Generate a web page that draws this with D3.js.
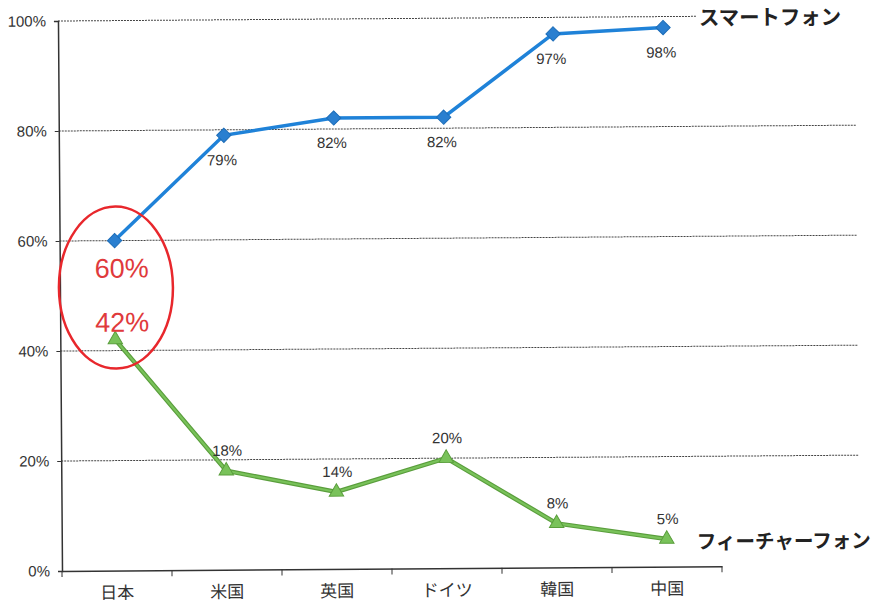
<!DOCTYPE html>
<html>
<head>
<meta charset="utf-8">
<script src="https://cdn.jsdelivr.net/npm/d3@7"></script>
<style>
  body { margin: 0; background: #fff; }
  text { font-family: "Liberation Sans", Arial, sans-serif; }
  .jp { font-family: "Noto Sans CJK JP", sans-serif; }
</style>
</head>
<body>
<div id="chart"></div>
<script>
const width = 877;
const height = 605;

// data
const countries = ["日本", "米国", "英国", "ドイツ", "韓国", "中国"];
const smartphone = [60, 79, 82, 82, 97, 98];
const featurephone = [42, 18, 14, 20, 8, 5];
const yTicks = [0, 20, 40, 60, 80, 100];

const plotLeft = 62, plotRight = 722, plotTop = 21, plotBottom = 571, gridEnd = 860;

const svg = d3.select("#chart").append("svg")
  .attr("width", width)
  .attr("height", height);

// the scan is slightly tilted
const g = svg.append("g")
  .attr("transform", `rotate(-0.42, ${plotLeft}, ${plotBottom})`);

const x = d3.scaleBand()
  .domain(countries)
  .range([plotLeft, plotRight]);

const y = d3.scaleLinear()
  .domain([0, 100])
  .range([plotBottom, plotTop]);

// gridlines
g.selectAll("line.grid")
  .data(yTicks.filter(d => d > 0))
  .enter().append("line")
  .attr("class", "grid")
  .attr("x1", plotLeft)
  .attr("x2", d => d === 100 ? 700 : gridEnd)
  .attr("y1", d => y(d))
  .attr("y2", d => y(d))
  .attr("stroke", "#444")
  .attr("stroke-width", 1)
  .attr("stroke-dasharray", "2,1");

// y axis
const yAxis = g.append("g")
  .attr("transform", `translate(${plotLeft},0)`)
  .call(d3.axisLeft(y).tickValues(yTicks).tickFormat(d => d + "%").tickSize(4).tickPadding(8));
yAxis.select(".domain").attr("stroke", "#333").attr("stroke-width", 1.5);
yAxis.selectAll(".tick line").attr("stroke", "#333");
yAxis.selectAll("text")
  .attr("font-size", 15)
  .attr("fill", "#333")
  .style("font-family", "'Liberation Sans', Arial, sans-serif");

// x axis
const xAxis = g.append("g")
  .attr("transform", `translate(0,${plotBottom})`)
  .call(d3.axisBottom(x).tickSize(0).tickPadding(16));
xAxis.select(".domain").attr("stroke", "#333").attr("stroke-width", 1.5);
xAxis.selectAll("text")
  .attr("font-size", 17)
  .attr("fill", "#333")
  .style("font-family", "'Noto Sans CJK JP', sans-serif");

// x tick marks at band boundaries
const bounds = countries.map(c => x(c)).concat([plotRight]);
g.selectAll("line.xtick")
  .data(bounds)
  .enter().append("line")
  .attr("x1", d => d).attr("x2", d => d)
  .attr("y1", plotBottom).attr("y2", plotBottom + 6)
  .attr("stroke", "#333")
  .attr("stroke-width", 1);

const cx = d => x(d) + x.bandwidth() / 2;

const line = d3.line()
  .x((d, i) => cx(countries[i]))
  .y(d => y(d));

// smartphone line
g.append("path")
  .datum(smartphone)
  .attr("d", line)
  .attr("fill", "none")
  .attr("stroke", "#1f82d8")
  .attr("stroke-width", 3.5);

g.selectAll("path.diamond")
  .data(smartphone)
  .enter().append("path")
  .attr("class", "diamond")
  .attr("d", d3.symbol(d3.symbolDiamond2, 130))
  .attr("transform", (d, i) => `translate(${cx(countries[i])},${y(d)})`)
  .attr("fill", "#2a7fd0")
  .attr("stroke", "#1d6db8")
  .attr("stroke-width", 1);

// feature phone line
g.append("path")
  .datum(featurephone)
  .attr("d", line)
  .attr("fill", "none")
  .attr("stroke", "#5a9e3c")
  .attr("stroke-width", 4.5);
g.append("path")
  .datum(featurephone)
  .attr("d", line)
  .attr("fill", "none")
  .attr("stroke", "#79c25a")
  .attr("stroke-width", 2.2);

g.selectAll("path.tri")
  .data(featurephone)
  .enter().append("path")
  .attr("class", "tri")
  .attr("d", d3.symbol(d3.symbolTriangle, 90))
  .attr("transform", (d, i) => `translate(${cx(countries[i])},${y(d)})`)
  .attr("fill", "#79c25a")
  .attr("stroke", "#5a9e3c")
  .attr("stroke-width", 1);

// value labels (skip Japan, drawn in red)
g.selectAll("text.sp")
  .data(smartphone.slice(1))
  .enter().append("text")
  .attr("class", "sp")
  .attr("x", (d, i) => cx(countries[i + 1]) - 2)
  .attr("y", d => y(d) + 30)
  .attr("text-anchor", "middle")
  .attr("font-size", 15)
  .attr("fill", "#333")
  .text(d => d + "%");

g.selectAll("text.fp")
  .data(featurephone.slice(1))
  .enter().append("text")
  .attr("class", "fp")
  .attr("x", (d, i) => cx(countries[i + 1]) + 1)
  .attr("y", d => y(d) - 15)
  .attr("text-anchor", "middle")
  .attr("font-size", 15)
  .attr("fill", "#333")
  .text(d => d + "%");

// highlight Japan
const jx = cx(countries[0]);
g.append("ellipse")
  .attr("cx", jx + 1)
  .attr("cy", 288)
  .attr("rx", 57)
  .attr("ry", 81)
  .attr("fill", "none")
  .attr("stroke", "#e8272c")
  .attr("stroke-width", 2.5);

g.append("text")
  .attr("x", jx + 7).attr("y", y(smartphone[0]) + 37)
  .attr("text-anchor", "middle")
  .attr("font-size", 27)
  .attr("fill", "#e03a3c")
  .text(smartphone[0] + "%");

g.append("text")
  .attr("x", jx + 7).attr("y", y(featurephone[0]) - 8)
  .attr("text-anchor", "middle")
  .attr("font-size", 27)
  .attr("fill", "#e03a3c")
  .text(featurephone[0] + "%");

// series names
g.append("text")
  .attr("class", "jp")
  .attr("x", 703).attr("y", y(100) + 9)
  .attr("font-size", 21)
  .attr("font-weight", "bold")
  .attr("fill", "#222")
  .attr("textLength", 142)
  .attr("lengthAdjust", "spacingAndGlyphs")
  .text("スマートフォン");

g.append("text")
  .attr("class", "jp")
  .attr("x", 697).attr("y", y(featurephone[5]) + 10)
  .attr("font-size", 20)
  .attr("font-weight", "bold")
  .attr("fill", "#222")
  .attr("textLength", 174)
  .attr("lengthAdjust", "spacingAndGlyphs")
  .text("フィーチャーフォン");
</script>
</body>
</html>
